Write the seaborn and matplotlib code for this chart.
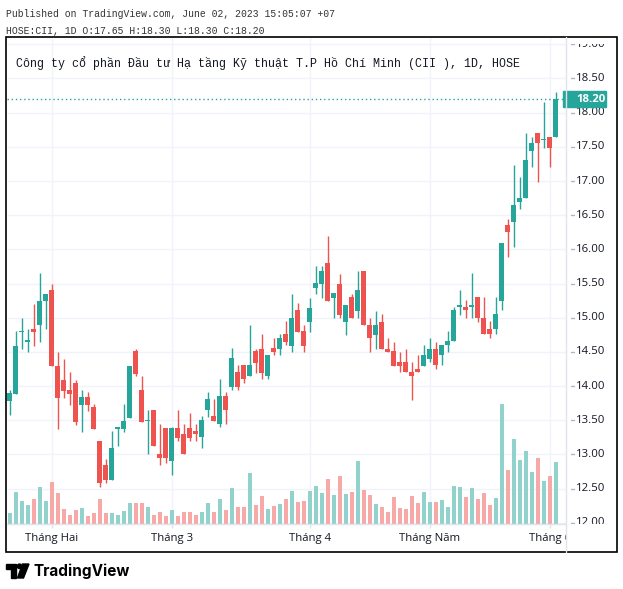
import matplotlib
matplotlib.use('Agg')
import matplotlib.pyplot as plt
import matplotlib.patches as mpatches
from matplotlib.lines import Line2D
from matplotlib.transforms import blended_transform_factory
import seaborn as sns
import pandas as pd
import numpy as np

# ============================================================
# Data (HOSE:CII, daily)
# ============================================================
opens = [13.78, 13.89, 14.79, 14.65, 14.84, 14.90, 15.25, 15.40, 14.29, 14.09,
         13.95, 14.05, 13.73, 13.84, 13.70, 13.20, 12.84, 12.62, 13.38, 13.38,
         13.54, 14.51, 13.95, 13.49, 13.65, 13.00, 13.39, 12.90, 13.39, 13.30,
         13.39, 13.35, 13.25, 13.65, 13.56, 13.45, 13.85, 13.99, 14.20, 14.31,
         14.15, 14.51, 14.55, 14.15, 14.56, 14.55, 14.76, 14.59, 15.11, 14.81,
         14.94, 15.44, 15.50, 15.80, 15.29, 15.50, 14.94, 15.30, 15.10, 15.69,
         14.90, 14.75, 14.94, 14.55, 14.51, 14.35, 14.35, 14.20, 14.25, 14.30,
         14.40, 14.55, 14.45, 14.60, 14.66, 15.16, 15.16, 15.16, 15.30, 15.00,
         14.84, 14.84, 15.25, 16.36, 16.40, 16.70, 16.75, 17.44, 17.70, 17.60,
         17.65, 17.65]
highs = [13.94, 14.80, 15.00, 14.84, 15.20, 15.65, 15.35, 15.50, 14.50, 14.40,
         14.20, 14.09, 13.94, 13.91, 13.74, 13.20, 12.94, 13.34, 13.39, 13.74,
         14.30, 14.54, 14.15, 13.65, 13.65, 13.44, 13.39, 13.40, 13.65, 13.44,
         13.60, 13.45, 13.56, 13.91, 13.81, 14.10, 13.91, 14.56, 14.31, 14.31,
         14.90, 14.55, 14.76, 14.45, 14.71, 14.76, 14.95, 15.35, 15.21, 14.90,
         15.29, 15.75, 15.75, 16.20, 15.36, 15.64, 15.19, 15.35, 15.69, 15.69,
         15.00, 15.10, 15.05, 14.70, 14.65, 14.50, 14.55, 14.35, 14.45, 14.60,
         14.70, 14.65, 14.60, 14.80, 15.16, 15.40, 15.26, 15.65, 15.30, 15.30,
         14.95, 15.30, 16.10, 16.45, 17.24, 17.06, 17.70, 17.65, 17.70, 18.15,
         17.65, 18.30]
lows = [13.58, 13.88, 14.54, 14.50, 14.59, 14.64, 14.84, 14.29, 13.38, 13.83,
        13.73, 13.43, 13.33, 13.64, 13.38, 12.52, 12.58, 12.62, 13.12, 13.33,
        13.54, 14.15, 13.48, 13.00, 13.13, 12.84, 12.88, 12.70, 13.20, 13.00,
        13.20, 13.20, 13.10, 13.55, 13.49, 13.40, 13.45, 13.95, 13.95, 14.05,
        14.15, 14.19, 14.10, 14.10, 14.45, 14.45, 14.60, 14.50, 14.79, 14.50,
        14.79, 15.35, 15.29, 15.25, 15.00, 15.00, 14.75, 15.00, 15.00, 14.90,
        14.50, 14.55, 14.55, 14.50, 14.30, 14.20, 14.20, 13.80, 14.20, 14.30,
        14.35, 14.25, 14.31, 14.50, 14.66, 15.04, 15.00, 15.00, 14.94, 14.76,
        14.70, 14.76, 15.11, 15.89, 16.04, 16.59, 16.75, 17.20, 16.99, 17.49,
        17.20, 17.65]
closes = [13.90, 14.59, 14.79, 14.65, 14.79, 15.25, 15.35, 14.29, 13.83, 13.93,
          13.89, 13.48, 13.84, 13.73, 13.38, 12.58, 12.62, 13.09, 13.38, 13.49,
          14.30, 14.18, 13.48, 13.49, 13.13, 12.95, 12.95, 13.39, 13.24, 13.00,
          13.24, 13.30, 13.50, 13.81, 13.49, 13.85, 13.65, 14.41, 13.99, 14.10,
          14.31, 14.34, 14.19, 14.45, 14.50, 14.71, 14.65, 15.00, 14.79, 14.59,
          15.15, 15.51, 15.69, 15.25, 15.36, 15.04, 15.19, 15.00, 15.40, 14.90,
          14.70, 14.90, 14.55, 14.50, 14.30, 14.30, 14.20, 14.15, 14.20, 14.45,
          14.55, 14.31, 14.60, 14.66, 15.11, 15.16, 15.11, 15.16, 15.00, 14.76,
          14.76, 15.05, 16.10, 16.25, 16.65, 16.75, 17.31, 17.55, 17.55, 17.60,
          17.49, 18.20]
# volume in relative units (bar height)
volume = [11, 32, 23, 19, 25, 37, 23, 42, 31, 15,
          9, 14, 16, 8, 11, 25, 11, 11, 9, 13,
          21, 21, 21, 17, 9, 12, 8, 14, 8, 12,
          12, 9, 12, 21, 12, 25, 14, 36, 17, 17,
          51, 19, 28, 15, 18, 20, 25, 33, 22, 23,
          33, 38, 31, 45, 29, 48, 30, 32, 63, 34,
          29, 20, 17, 12, 27, 16, 15, 28, 21, 32,
          22, 22, 24, 17, 38, 37, 27, 36, 25, 31,
          19, 26, 120, 54, 85, 64, 73, 52, 66, 43,
          48, 62]

holidays = ['2023-01-20', '2023-01-23', '2023-01-24', '2023-01-25', '2023-01-26',
            '2023-05-01', '2023-05-02', '2023-05-03']
month_names = {2: 'Tháng Hai', 3: 'Tháng 3', 4: 'Tháng 4', 5: 'Tháng Năm', 6: 'Tháng 6'}
price_ticks = [12.0, 12.5, 13.0, 13.5, 14.0, 14.5, 15.0, 15.5, 16.0, 16.5, 17.0, 17.5, 18.0, 18.5, 19.0]

header_1 = 'Published on TradingView.com, June 02, 2023 15:05:07 +07'
header_2 = 'HOSE:CII, 1D O:17.65 H:18.30 L:18.30 C:18.20'
title = 'Công ty cổ phần Đầu tư Hạ tầng Kỹ thuật T.P Hồ Chí Minh (CII ), 1D, HOSE'

TEAL, RED = '#26a69a', '#ef5350'
TEAL_VOL, RED_VOL = '#92d2cc', '#f7a9a7'
GRID = '#f0f3fa'
SEP = '#e0e3eb'
TXT = '#131722'

dates = pd.bdate_range('2023-01-16', '2023-06-02')
dates = dates[~dates.isin(pd.to_datetime(holidays))]

df = pd.DataFrame({'date': dates, 'open': opens, 'high': highs, 'low': lows,
                   'close': closes, 'volume': volume})
df['idx'] = np.arange(len(df))
df['dir'] = np.where(df['close'] >= df['open'], 'up', 'down')
month_start = df.index[df['date'].dt.month != df['date'].dt.month.shift()].tolist()[1:]

# ============================================================
# Layout (pixel geometry of the 623x589 reference)
# ============================================================
W, H = 623, 589
def fx(px):
    return px / W
def fy(py):
    return 1 - py / H

L, R, T, B = 7, 566, 37, 524
sns.set_style('white')
plt.rcParams['font.family'] = ['Open Sans', 'DejaVu Sans']
MONO = ['Liberation Mono', 'DejaVu Sans Mono', 'Noto Sans']

fig = plt.figure(figsize=(W / 100, H / 100), dpi=100)
rect = [fx(L), fy(B), (R - L) / W, (B - T) / H]
vax = fig.add_axes(rect)
ax = fig.add_axes(rect, sharex=vax)

# volume bars (bottom layer)
sns.barplot(data=df, x='idx', y='volume', hue='dir', palette={'up': TEAL_VOL, 'down': RED_VOL},
            dodge=False, width=0.72, saturation=1, legend=False, errorbar=None,
            linewidth=0, ax=vax)

ymin, ymax = 11.983, 19.107
ax.set_ylim(ymin, ymax)
vax.set_ylim(0, max(volume) / (120 / (B - T)))
xmin, xmax = (L - 9.7) / 6, (R - 9.7) / 6
ax.set_xlim(xmin, xmax)

# grid under everything
vax.vlines(month_start, 0, 1, transform=blended_transform_factory(vax.transData, vax.transAxes),
           color=GRID, lw=1, zorder=0)
vax.hlines(price_ticks, 0, 1, transform=blended_transform_factory(vax.transAxes, ax.transData),
           color=GRID, lw=1, zorder=0)

# candles
colors = np.where(df['dir'] == 'up', TEAL, RED)
ax.vlines(df['idx'], df['low'], df['high'], colors=colors, lw=1)
body_lo = np.minimum(df['open'], df['close'])
body_h = np.maximum((df['close'] - df['open']).abs(), 0.02)
ax.bar(df['idx'], body_h, bottom=body_lo, width=0.75, color=colors, linewidth=0)

ax.axhline(closes[-1], color=TEAL, lw=1, ls=(0, (1, 2)))
ax.text((16 - L) / (R - L), 1 - (63 - T) / (B - T), title, transform=ax.transAxes,
        ha='left', va='center', family=MONO, fontsize=8.4, color=TXT)

for a in (ax, vax):
    a.set_axis_off()

# price scale (labels clipped to the scale area like the reference)
PT = 44
pax = fig.add_axes([fx(R), fy(B), (617 - R) / W, (B - PT) / H])
pax.set_axis_off()
pax.set_xlim(0, 1)
pax.set_ylim(ymin, ymin + (ymax - ymin) * (B - PT) / (B - T))
for p in price_ticks:
    pax.plot([0.09, 0.16], [p, p], color='#b2b5be', lw=1)
    pax.text(0.2, p, f'{p:.2f}', ha='left', va='center', fontsize=8.2, color=TXT, clip_on=True)
pax.add_patch(mpatches.Rectangle((-0.06, closes[-1] - 0.11), 0.84, 0.22, color=TEAL,
                                 clip_on=False, zorder=3))
pax.text(0.2, closes[-1], f'{closes[-1]:.2f}', ha='left', va='center', fontsize=8.2,
         color='white', fontweight='bold', zorder=4)

# time scale
tax = fig.add_axes([fx(L), fy(552), (R - L) / W, (552 - B) / H], sharex=ax)
tax.set_axis_off()
tax.set_ylim(0, 1)
tax.vlines(month_start, 0.85, 1, color=SEP, lw=1)
for i in month_start:
    tax.text(i, 0.5, month_names[df['date'][i].month], ha='center', va='center',
             fontsize=8.2, color=TXT, clip_on=True)
ax.set_xlim(xmin, xmax)

# separators and frame
fig.add_artist(Line2D([fx(R), fx(R)], [fy(T), fy(552)], color=SEP, lw=1))
fig.add_artist(Line2D([fx(L), fx(R)], [fy(B), fy(B)], color=SEP, lw=1))
fig.add_artist(mpatches.Rectangle((fx(6), fy(552)), (617 - 6) / W, (552 - 37) / H,
                                  fill=False, ec='black', lw=1.2, transform=fig.transFigure))

# header
fig.text(fx(6), fy(14), header_1, family=MONO, fontsize=7, color='#333333', va='center')
fig.text(fx(6), fy(31), header_2, family=MONO, fontsize=7, color='#333333', va='center')

# footer logo
fig.add_artist(mpatches.Rectangle((fx(6), fy(568.5)), 10 / W, 4.5 / H, color='black',
                                  transform=fig.transFigure))
fig.add_artist(mpatches.Rectangle((fx(11), fy(578)), 5 / W, 9.5 / H, color='black',
                                  transform=fig.transFigure))
fig.add_artist(mpatches.Ellipse((fx(19.5), fy(566.3)), 4.5 / W, 4.5 / H, color='black',
                                transform=fig.transFigure))
fig.add_artist(mpatches.Polygon([(fx(22.5), fy(564)), (fx(29), fy(564)), (fx(23.5), fy(578)),
                                 (fx(17.5), fy(578))], color='black', transform=fig.transFigure))
fig.text(fx(33), fy(571), 'TradingView', fontsize=11, fontweight='bold', family=['Inter', 'DejaVu Sans'],
         color='black', va='center', ha='left')

fig.savefig('out.png', dpi=100)
plt.close(fig)
